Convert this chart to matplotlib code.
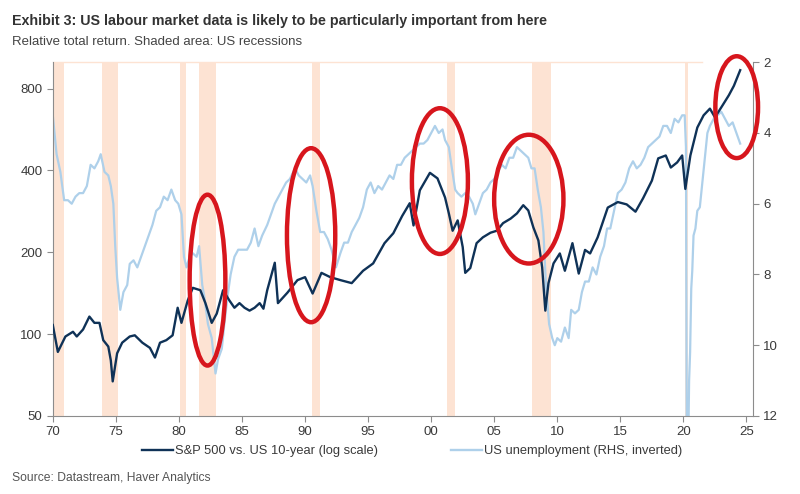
import matplotlib
matplotlib.use("Agg")
import matplotlib.pyplot as plt
from matplotlib.patches import Ellipse
from matplotlib.lines import Line2D
from matplotlib.ticker import FixedLocator, NullLocator

plt.rcParams['font.family'] = ['Liberation Sans', 'DejaVu Sans']

# ---------------- data ----------------
spx_years = [1970.0, 1970.4, 1971.0, 1971.6, 1971.9, 1972.4, 1972.9, 1973.3, 1973.7, 1974.0,
             1974.4, 1974.6, 1974.75, 1975.1, 1975.5, 1976.1, 1976.5, 1977.1, 1977.7, 1978.1,
             1978.5, 1979.0, 1979.5, 1979.9, 1980.2, 1980.7, 1981.1, 1981.7, 1982.1, 1982.6,
             1983.0, 1983.5, 1984.0, 1984.4, 1984.8, 1985.2, 1985.6, 1986.0, 1986.4, 1986.7,
             1987.0, 1987.6, 1987.85, 1988.6,
             1989.4, 1990.0, 1990.6, 1991.3, 1992.0, 1992.8, 1993.7, 1994.6, 1995.4, 1996.3,
             1997.0, 1997.7, 1998.3, 1998.6, 1999.1, 1999.9, 2000.5, 2001.1, 2001.4, 2001.7,
             2002.1, 2002.5, 2002.7, 2003.1, 2003.6, 2004.1, 2004.7, 2005.2, 2005.7, 2006.3,
             2006.8, 2007.3, 2007.7, 2008.1, 2008.5, 2008.8, 2009.05, 2009.3, 2009.7, 2010.2,
             2010.6, 2011.2, 2011.7, 2012.2, 2012.6, 2013.2, 2014.0, 2014.8, 2015.5, 2016.2,
             2016.8, 2017.5, 2018.0, 2018.6, 2019.0, 2019.5, 2019.9, 2020.15, 2020.55, 2021.1,
             2021.6, 2022.1, 2022.5, 2023.1, 2023.6, 2024.0, 2024.5]
spx_values = [108, 86, 98, 102, 98, 104, 116, 110, 110, 95,
              90, 80, 67, 85, 93, 98, 99, 93, 89, 82,
              93, 95, 99, 125, 110, 133, 148, 145, 130, 110,
              119, 145, 133, 125, 130, 125, 122, 125, 130, 124,
              145, 183, 130, 142,
              158, 162, 141, 168, 162, 158, 154, 171, 182, 216,
              235, 272, 303, 251, 338, 392, 374, 318, 278, 240,
              262, 209, 168, 175, 216, 227, 236, 240, 256, 266,
              278, 298, 285, 247, 221, 176, 122, 154, 182, 198,
              171, 216, 167, 204, 198, 227, 292, 306, 300, 282,
              316, 367, 443, 454, 410, 428, 454, 342, 454, 575,
              638, 675, 627, 694, 756, 819, 935]

unemp_years = [1970.0, 1970.3, 1970.6, 1970.9, 1971.2, 1971.5, 1971.8, 1972.1, 1972.4, 1972.7,
               1973.0, 1973.3, 1973.6, 1973.8, 1974.1, 1974.4, 1974.6, 1974.8, 1974.95, 1975.1,
               1975.35, 1975.6, 1975.9, 1976.1, 1976.4, 1976.7, 1977.0, 1977.3, 1977.6, 1977.9,
               1978.2, 1978.5, 1978.8, 1979.1, 1979.4, 1979.7, 1979.95, 1980.2, 1980.4, 1980.6,
               1980.85, 1981.1, 1981.4, 1981.6, 1981.85, 1982.0, 1982.3, 1982.6, 1982.9, 1983.1,
               1983.4, 1983.6, 1983.9, 1984.1, 1984.4, 1984.7, 1985.0, 1985.4, 1985.7, 1986.0,
               1986.3, 1986.6, 1987.0, 1987.3, 1987.6, 1987.9, 1988.2, 1988.5, 1988.8, 1989.2,
               1989.5, 1989.8, 1990.1, 1990.4, 1990.6, 1990.9, 1991.2, 1991.5, 1991.8, 1992.1,
               1992.45, 1992.8, 1993.1, 1993.4, 1993.7, 1994.0, 1994.3, 1994.6, 1994.9, 1995.2,
               1995.5, 1995.8, 1996.1, 1996.4, 1996.7, 1997.0, 1997.3, 1997.6, 1997.9, 1998.2,
               1998.5, 1998.8, 1999.1, 1999.4, 1999.7, 2000.0, 2000.3, 2000.6, 2000.9, 2001.1,
               2001.4, 2001.6, 2001.9, 2002.1, 2002.4, 2002.7, 2003.0, 2003.3, 2003.5, 2003.8,
               2004.1, 2004.4, 2004.7, 2005.0, 2005.3, 2005.6, 2005.9, 2006.2, 2006.5, 2006.8,
               2007.1, 2007.4, 2007.7, 2007.95, 2008.2, 2008.45, 2008.7, 2008.9, 2009.1, 2009.35,
               2009.6, 2009.8, 2010.0, 2010.3, 2010.6, 2010.9, 2011.1, 2011.4, 2011.7, 2011.95,
               2012.2, 2012.5, 2012.8, 2013.1, 2013.4, 2013.7, 2013.95, 2014.2, 2014.5, 2014.8,
               2015.1, 2015.4, 2015.7, 2016.0, 2016.3, 2016.6, 2016.9, 2017.2, 2017.5, 2017.8,
               2018.1, 2018.4, 2018.7, 2019.0, 2019.3, 2019.6, 2019.9, 2020.1, 2020.2, 2020.28,
               2020.37, 2020.45, 2020.53, 2020.62, 2020.7, 2020.8, 2020.95, 2021.1, 2021.3, 2021.5,
               2021.7, 2021.9, 2022.1, 2022.4, 2022.7, 2023.0, 2023.3, 2023.6, 2023.9, 2024.1,
               2024.3, 2024.5]
unemp_values = [3.5, 4.6, 5.1, 5.9, 5.9, 6.0, 5.8, 5.7, 5.7, 5.5,
                4.9, 5.0, 4.8, 4.6, 5.1, 5.2, 5.5, 6.0, 7.2, 8.1,
                9.0, 8.5, 8.3, 7.7, 7.6, 7.8, 7.5, 7.2, 6.9, 6.6,
                6.2, 6.1, 5.8, 5.9, 5.6, 5.9, 6.0, 6.3, 7.5, 7.8,
                7.5, 7.4, 7.5, 7.2, 8.3, 8.6, 9.4, 9.8, 10.8, 10.4,
                10.1, 9.4, 8.5, 8.0, 7.5, 7.3, 7.3, 7.3, 7.1, 6.7,
                7.2, 6.9, 6.6, 6.3, 6.0, 5.8, 5.6, 5.4, 5.3, 5.0,
                5.2, 5.3, 5.4, 5.2, 5.5, 6.2, 6.8, 6.8, 7.0, 7.3,
                7.8, 7.4, 7.1, 7.1, 6.8, 6.6, 6.4, 6.1, 5.6, 5.4,
                5.7, 5.5, 5.6, 5.4, 5.2, 5.3, 4.9, 4.9, 4.7, 4.6,
                4.5, 4.4, 4.3, 4.3, 4.2, 4.0, 3.8, 4.0, 3.9, 4.2,
                4.4, 4.9, 5.6, 5.7, 5.8, 5.7, 5.8, 6.0, 6.3, 6.0,
                5.7, 5.6, 5.4, 5.3, 5.1, 4.9, 5.0, 4.7, 4.7, 4.4,
                4.5, 4.6, 4.7, 5.0, 5.0, 5.6, 6.1, 6.8, 8.3, 9.4,
                9.8, 10.0, 9.8, 9.9, 9.5, 9.8, 9.0, 9.1, 9.0, 8.5,
                8.2, 8.2, 7.8, 8.0, 7.5, 7.2, 6.7, 6.7, 6.2, 5.7,
                5.6, 5.4, 5.0, 4.8, 5.0, 4.9, 4.7, 4.4, 4.3, 4.2,
                4.1, 3.8, 3.8, 4.0, 3.6, 3.7, 3.5, 3.5, 4.4, 14.8,
                13.2, 11.0, 10.2, 8.4, 7.9, 6.9, 6.7, 6.2, 6.1, 5.4,
                4.7, 4.0, 3.8, 3.6, 3.5, 3.4, 3.6, 3.8, 3.7, 3.9,
                4.1, 4.3]

recessions = [(1970.0, 1970.87), (1973.9, 1975.2), (1980.1, 1980.55), (1981.6, 1982.9),
              (1990.55, 1991.2), (2001.25, 2001.9), (2008.0, 2009.5), (2020.15, 2020.35)]

x_ticks = [1970, 1975, 1980, 1985, 1990, 1995, 2000, 2005, 2010, 2015, 2020, 2025]
x_labels = ['70', '75', '80', '85', '90', '95', '00', '05', '10', '15', '20', '25']
left_ticks = [50, 100, 200, 400, 800]
right_ticks = [2, 4, 6, 8, 10, 12]

# highlight ellipses (axes fraction: cx, cy, w, h)
highlights = [(0.221, 0.384, 0.051, 0.483),
              (0.369, 0.511, 0.069, 0.492),
              (0.553, 0.664, 0.080, 0.412),
              (0.680, 0.613, 0.099, 0.364),
              (0.977, 0.873, 0.061, 0.288)]

# ---------------- figure ----------------
DARK = '#0f3257'
LIGHT = '#aed0ea'
SHADE = '#fde3d3'
SPINE = '#8c8c8c'
TXT = '#3a3a3a'

fig = plt.figure(figsize=(8.0, 4.94), dpi=100)
ax = fig.add_axes([0.066, 0.158, 0.875, 0.716])
ax2 = ax.twinx()

# shading and unemployment on the secondary (lower) axes
for a, b in recessions:
    ax2.axvspan(a, b, color=SHADE, lw=0, zorder=0)
ax2.axhline(2, xmin=0, xmax=0.927, color=SHADE, lw=1.0, zorder=0, clip_on=False)
ax2.plot(unemp_years, unemp_values, color=LIGHT, lw=1.6, zorder=2)
ax2.set_ylim(12, 2)
ax2.set_yticks(right_ticks)

ax.set_zorder(ax2.get_zorder() + 1)
ax.patch.set_visible(False)
ax.set_yscale('log')
ax.set_ylim(50, 1000)
ax.set_xlim(1970, 2025.5)
ax.yaxis.set_major_locator(FixedLocator(left_ticks))
ax.yaxis.set_minor_locator(NullLocator())
ax.set_yticklabels([str(v) for v in left_ticks])
ax.set_xticks(x_ticks)
ax.set_xticklabels(x_labels)
ax.plot(spx_years, spx_values, color=DARK, lw=1.7, zorder=3)

for a in [ax, ax2]:
    a.spines['top'].set_visible(False)
ax.spines['right'].set_visible(False)
ax2.spines['left'].set_visible(False)
ax2.spines['bottom'].set_visible(False)
ax.spines['left'].set_color(SPINE)
ax.spines['bottom'].set_color(SPINE)
ax2.spines['right'].set_color(SPINE)

ax.tick_params(axis='both', colors=SPINE, labelcolor=TXT, labelsize=9.5, length=4, width=0.8)
ax2.tick_params(axis='y', colors=SPINE, labelcolor=TXT, labelsize=9.5, length=4, width=0.8)

for cx, cy, w, h in highlights:
    e = Ellipse((cx, cy), w, h, transform=ax.transAxes, fill=False,
                edgecolor='#d7161d', lw=3.2, clip_on=False, zorder=10)
    ax.add_patch(e)

handles = [Line2D([], [], color=DARK, lw=1.7), Line2D([], [], color=LIGHT, lw=1.7)]
fig.legend(handles, ['S&P 500 vs. US 10-year (log scale)', 'US unemployment (RHS, inverted)'],
           loc='center', bbox_to_anchor=(0.515, 0.087), ncol=2, frameon=False,
           fontsize=9.3, handlelength=2.4, handletextpad=0.2, columnspacing=5.6,
           labelcolor=TXT)

fig.text(0.015, 0.958, 'Exhibit 3: US labour market data is likely to be particularly important from here',
         fontsize=10.3, fontweight='bold', color='#333333', va='center')
fig.text(0.015, 0.915, 'Relative total return. Shaded area: US recessions',
         fontsize=9.5, color='#444444', va='center')
fig.text(0.015, 0.032, 'Source: Datastream, Haver Analytics', fontsize=8.7, color='#555555', va='center')

fig.savefig('out.png', dpi=100)
